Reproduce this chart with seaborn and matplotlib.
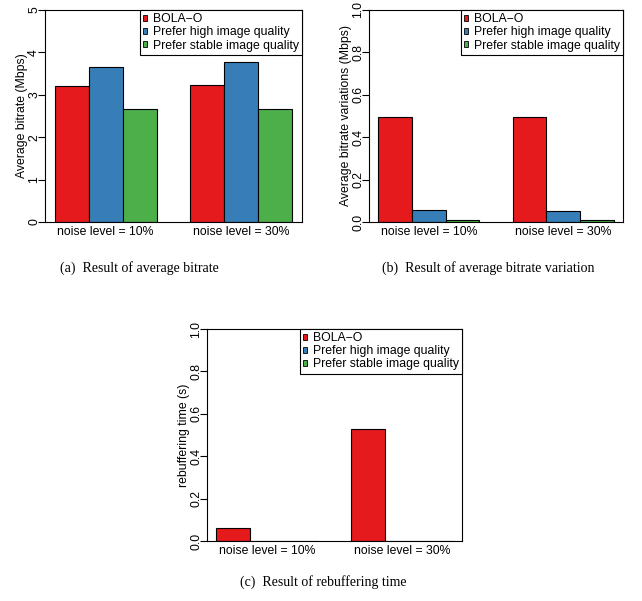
import matplotlib
matplotlib.use("Agg")
import matplotlib.pyplot as plt
from matplotlib.patches import Patch
import seaborn as sns
import pandas as pd

# ---- data ----
categories = ["noise level = 10%", "noise level = 30%"]
methods = ["BOLA\u2212O", "Prefer high image quality", "Prefer stable image quality"]
colors = ["#E41A1C", "#377EB8", "#4DAF4A"]

bitrate_bola = [3.21, 3.23]
bitrate_high = [3.65, 3.77]
bitrate_stable = [2.66, 2.66]

variation_bola = [0.495, 0.495]
variation_high = [0.058, 0.052]
variation_stable = [0.009, 0.008]

rebuffer_bola = [0.06, 0.53]
rebuffer_high = [0.0, 0.0]
rebuffer_stable = [0.0, 0.0]

ticks_a = [0, 1, 2, 3, 4, 5]
ticklabels_a = ["0", "1", "2", "3", "4", "5"]
ticks_bc = [0.0, 0.2, 0.4, 0.6, 0.8, 1.0]
ticklabels_bc = ["0.0", "0.2", "0.4", "0.6", "0.8", "1.0"]

ylabel_a = "Average bitrate (Mbps)"
ylabel_b = "Average bitrate variations (Mbps)"
ylabel_c = "rebuffering time (s)"

caption_a = "(a)  Result of average bitrate"
caption_b = "(b)  Result of average bitrate variation"
caption_c = "(c)  Result of rebuffering time"

sns.set_theme(style="ticks")
plt.rcParams["font.family"] = ["Liberation Sans", "DejaVu Sans"]
plt.rcParams["text.color"] = "black"
plt.rcParams["axes.labelcolor"] = "black"
plt.rcParams["xtick.color"] = "black"
plt.rcParams["ytick.color"] = "black"
FS = 8.8


def long_df(a, b, c):
    rows = []
    for m, vals in zip(methods, [a, b, c]):
        for cat, v in zip(categories, vals):
            rows.append({"noise": cat, "method": m, "value": v})
    return pd.DataFrame(rows)


W, H = 642, 601
fig = plt.figure(figsize=(W / 100, H / 100), dpi=100)


def axes_px(l, t, r, b):
    return fig.add_axes([l / W, 1 - b / H, (r - l) / W, (b - t) / H])


def draw(ax, df, ylim, ticks, ticklabels, ylabel):
    sns.barplot(data=df, x="noise", y="value", hue="method", order=categories,
                hue_order=methods, palette=colors, width=0.75, errorbar=None,
                edgecolor="black", linewidth=0.8, saturation=1, legend=False, ax=ax)
    ax.set_xlim(-0.445, 1.445)
    ax.set_ylim(*ylim)
    ax.set_yticks(ticks)
    ax.set_yticklabels(ticklabels, rotation=90, va="center", fontsize=FS)
    ax.tick_params(axis="y", length=5, width=0.8, pad=-1.5, color="black")
    ax.tick_params(axis="x", length=0, pad=3, labelsize=FS)
    ax.set_xlabel("")
    ax.set_ylabel(ylabel, fontsize=FS, labelpad=0)
    for s in ax.spines.values():
        s.set_visible(True)
        s.set_linewidth(0.8)
        s.set_color("black")
    handles = [Patch(facecolor=c, edgecolor="black", linewidth=0.6) for c in colors]
    leg = ax.legend(handles, methods, loc="upper right", bbox_to_anchor=(1, 1),
                    borderaxespad=0, fontsize=FS, frameon=True, fancybox=False,
                    framealpha=1, edgecolor="black", borderpad=0.25,
                    handlelength=0.4, handleheight=0.4, handletextpad=0.45,
                    labelspacing=0.1)
    leg.get_frame().set_linewidth(0.8)


ax_a = axes_px(45, 10, 302, 222)
draw(ax_a, long_df(bitrate_bola, bitrate_high, bitrate_stable), (0, 5),
     ticks_a, ticklabels_a, ylabel_a)

ax_b = axes_px(369, 10, 623, 222)
draw(ax_b, long_df(variation_bola, variation_high, variation_stable), (0, 1),
     ticks_bc, ticklabels_bc, ylabel_b)

ax_c = axes_px(207, 329, 462, 541)
draw(ax_c, long_df(rebuffer_bola, rebuffer_high, rebuffer_stable), (0, 1),
     ticks_bc, ticklabels_bc, ylabel_c)

cap_kw = dict(ha="center", va="center", fontsize=10, color="black",
              family=["Liberation Serif", "DejaVu Serif"])
fig.text(139 / W, 1 - 268 / H, caption_a, **cap_kw)
fig.text(488 / W, 1 - 268 / H, caption_b, **cap_kw)
fig.text(323 / W, 1 - 582 / H, caption_c, **cap_kw)

fig.savefig("out.png", dpi=100, facecolor="white")
